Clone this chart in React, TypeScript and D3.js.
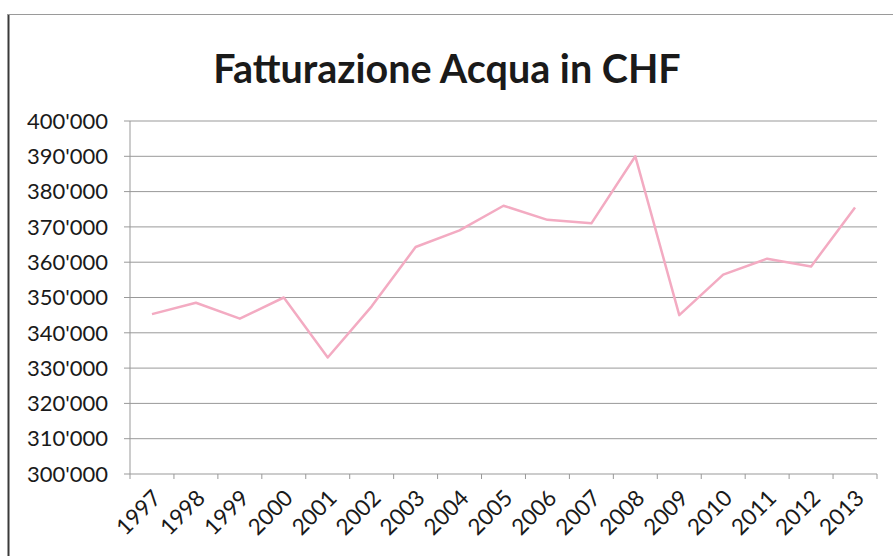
import React from "react";
import * as d3 from "d3";

const years = ["1997","1998","1999","2000","2001","2002","2003","2004","2005","2006","2007","2008","2009","2010","2011","2012","2013"];
const revenue = [345300, 348500, 344000, 350000, 333000, 347500, 364300, 369000, 376000, 372000, 371000, 390000, 345000, 356500, 361000, 358800, 375500];
const yTicks = [300000, 310000, 320000, 330000, 340000, 350000, 360000, 370000, 380000, 390000, 400000];
const title = "Fatturazione Acqua in CHF";

const W = 893, H = 556;
const left = 130, right = 877, top = 121, bottom = 474;

const fmt = (v: number) => {
  const s = String(v);
  return s.slice(0, s.length - 3) + "'" + s.slice(-3);
};

export default function App() {
  const x = d3.scaleBand<string>().domain(years).range([left, right]);
  const y = d3.scaleLinear().domain([300000, 400000]).range([bottom, top]);
  const line = d3.line<number>()
    .x((_, i) => (x(years[i]) as number) + x.bandwidth() / 2)
    .y((d) => y(d));
  const font = "Lato, 'Open Sans', sans-serif";
  const tickXs = years.map((yr) => x(yr) as number).concat([right]);
  return (
    <svg width={W} height={H} style={{ position: "absolute", left: 0, top: 0, background: "#fff" }}>
      <rect x={0} y={0} width={W} height={H} fill="#fff" />
      {/* frame */}
      <line x1={8.5} y1={14} x2={8.5} y2={H} stroke="#3a3a3a" strokeWidth={2} />
      <line x1={8} y1={14.5} x2={W} y2={14.5} stroke="#9a9a9a" strokeWidth={1} />
      <text x={447} y={83} textAnchor="middle" fontFamily={font} fontWeight={700} fontSize={39.5} fill="#1a1a1a">{title}</text>
      {/* grid */}
      {yTicks.map((t) => (
        <g key={t}>
          <line x1={left - 6} x2={right} y1={y(t)} y2={y(t)} stroke="#999" strokeWidth={1} />
          <text x={108} y={y(t)} dy="0.35em" textAnchor="end" fontFamily={font} fontSize={22} fill="#1a1a1a">{fmt(t)}</text>
        </g>
      ))}
      <line x1={left} x2={left} y1={top} y2={bottom} stroke="#999" strokeWidth={1} />
      {tickXs.map((tx, i) => (
        <line key={i} x1={tx} x2={tx} y1={bottom} y2={bottom + 5} stroke="#999" strokeWidth={1} />
      ))}
      {years.map((yr) => {
        const cx = (x(yr) as number) + x.bandwidth() / 2 + 5;
        const cy = bottom + 20;
        return (
          <text key={yr} x={cx} y={cy} textAnchor="end" dy="0.35em" transform={`rotate(-45 ${cx} ${cy})`} fontFamily={font} fontSize={22.5} fill="#1a1a1a">{yr}</text>
        );
      })}
      <path d={line(revenue) || ""} fill="none" stroke="#f3abc2" strokeWidth={2.5} strokeLinejoin="round" />
    </svg>
  );
}
